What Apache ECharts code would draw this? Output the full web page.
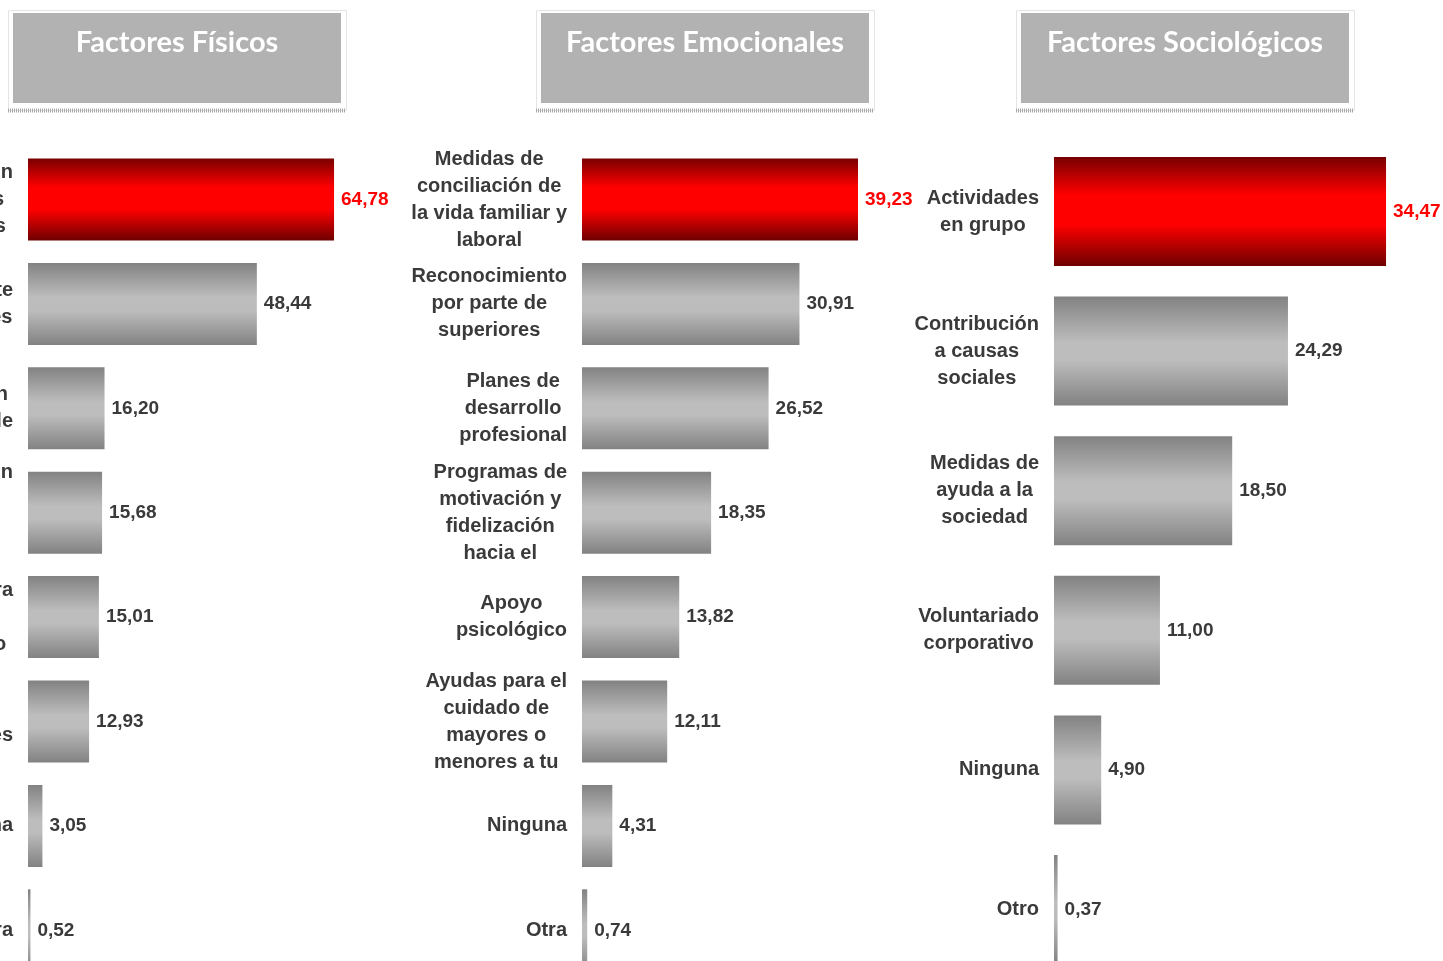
<!DOCTYPE html>
<html>
<head>
<meta charset="utf-8">
<script src="https://cdn.jsdelivr.net/npm/echarts@6/dist/echarts.min.js"></script>
<style>
html,body{margin:0;padding:0;background:#fff;}
#chart{width:1443px;height:961px;}
</style>
</head>
<body>
<div id="chart"></div>
<script>
// ---- Data ----
const panelTitles = ["Factores Físicos", "Factores Emocionales", "Factores Sociológicos"];

const fisicosCats = [
  "Servicio de prevención\ny revisiones médicas\nperiódicas completas",
  "Fomento del deporte\ny hábitos saludables",
  "Comedor con alimentación\nmás equilibrada y saludable",
  "Ergonomía y adaptación\ndel puesto\nde trabajo\nmobiliario",
  "Salas de descanso para\nel personal\nen el centro de trabajo",
  "Servicio de\nfisioterapia y masajes",
  "Ninguna",
  "Otra"
];
const fisicosVals = [64.78, 48.44, 16.20, 15.68, 15.01, 12.93, 3.05, 0.52];

const emocionalesCats = [
  "Medidas de\nconciliación de\nla vida familiar y\nlaboral",
  "Reconocimiento\npor parte de\nsuperiores",
  "Planes de\ndesarrollo\nprofesional",
  "Programas de\nmotivación y\nfidelización\nhacia el",
  "Apoyo\npsicológico",
  "Ayudas para el\ncuidado de\nmayores o\nmenores a tu",
  "Ninguna",
  "Otra"
];
const emocionalesVals = [39.23, 30.91, 26.52, 18.35, 13.82, 12.11, 4.31, 0.74];

const sociologicosCats = [
  "Actividades\nen grupo",
  "Contribución\na causas\nsociales",
  "Medidas de\nayuda a la\nsociedad",
  "Voluntariado\ncorporativo",
  "Ninguna",
  "Otro"
];
const sociologicosVals = [34.47, 24.29, 18.50, 11.00, 4.90, 0.37];

// ---- Styles ----
const TEXT = '#3a3a3a';
const FONT = 'Liberation Sans, Arial, sans-serif';
const grayGrad = new echarts.graphic.LinearGradient(0, 0, 0, 1, [
  {offset: 0, color: '#828282'},
  {offset: 0.42, color: '#bdbdbd'},
  {offset: 0.58, color: '#bdbdbd'},
  {offset: 1, color: '#828282'}
]);
const redGrad = new echarts.graphic.LinearGradient(0, 0, 0, 1, [
  {offset: 0, color: '#780000'},
  {offset: 0.35, color: '#ff0000'},
  {offset: 0.62, color: '#ff0000'},
  {offset: 1, color: '#6e0000'}
]);

const panels = [
  {cats: fisicosCats, vals: fisicosVals, left: 28, top: 147.3, height: 835.2, max: 70, width: 330.7, barWidth: 82, margin: 15},
  {cats: emocionalesCats, vals: emocionalesVals, left: 582, top: 147.3, height: 835.2, max: 45, width: 316.6, barWidth: 82, margin: 15},
  {cats: sociologicosCats, vals: sociologicosVals, left: 1054, top: 141.7, height: 837.6, max: 40, width: 385.3, barWidth: 109, margin: 15}
];

const grids = [], xAxes = [], yAxes = [], series = [];
panels.forEach((p, i) => {
  grids.push({left: p.left, top: p.top, width: p.width, height: p.height, containLabel: false, outerBoundsMode: 'none'});
  xAxes.push({type: 'value', gridIndex: i, min: 0, max: p.max, show: false, splitLine: {show: false}});
  yAxes.push({
    type: 'category', gridIndex: i, inverse: true, data: p.cats,
    axisLine: {show: false}, axisTick: {show: false}, splitLine: {show: false},
    axisLabel: {
      interval: 0, margin: p.margin,
      formatter: v => v.split('\n').map(s => '{c|' + s + '}').join('\n'),
      rich: {c: {align: 'center', fontSize: 20, fontWeight: 'bold', lineHeight: 27, color: TEXT, fontFamily: FONT}}
    }
  });
  series.push({
    type: 'bar', xAxisIndex: i, yAxisIndex: i, barWidth: p.barWidth,
    data: p.vals.map((v, k) => ({
      value: v,
      itemStyle: {color: k === 0 ? redGrad : grayGrad},
      label: {color: k === 0 ? '#ff0000' : TEXT}
    })),
    label: {
      show: true, position: 'right', distance: 7,
      fontSize: 19, fontWeight: 'bold', fontFamily: FONT,
      formatter: d => d.value.toFixed(2).replace('.', ',')
    },
    animation: false
  });
});

const boxes = [{x: 8, inner: 13, w: 328}, {x: 536, inner: 541, w: 328}, {x: 1016, inner: 1021, w: 328}];
const graphic = [];
boxes.forEach((b, i) => {
  graphic.push({type: 'rect', shape: {x: b.x + 0.5, y: 10.5, width: b.w + 10, height: 100}, style: {fill: 'none', stroke: '#e4e4e4', lineWidth: 1}, silent: true});
  graphic.push({type: 'line', shape: {x1: b.x, y1: 110.5, x2: b.x + b.w + 10, y2: 110.5}, style: {stroke: '#a8a8a8', lineWidth: 4, lineDash: [1, 1]}, silent: true});
  graphic.push({type: 'rect', shape: {x: b.inner, y: 13, width: b.w, height: 90}, style: {fill: '#b2b2b2'}, silent: true});
  graphic.push({type: 'text', x: b.inner + b.w / 2, y: 43, style: {text: panelTitles[i], fill: '#ffffff', font: 'bold 29px Lato, "Open Sans", sans-serif', align: 'center', verticalAlign: 'middle'}, silent: true});
});

const chart = echarts.init(document.getElementById('chart'), null, {renderer: 'canvas'});
chart.setOption({
  animation: false,
  backgroundColor: '#ffffff',
  grid: grids, xAxis: xAxes, yAxis: yAxes, series: series,
  graphic: graphic
});
</script>
</body>
</html>
